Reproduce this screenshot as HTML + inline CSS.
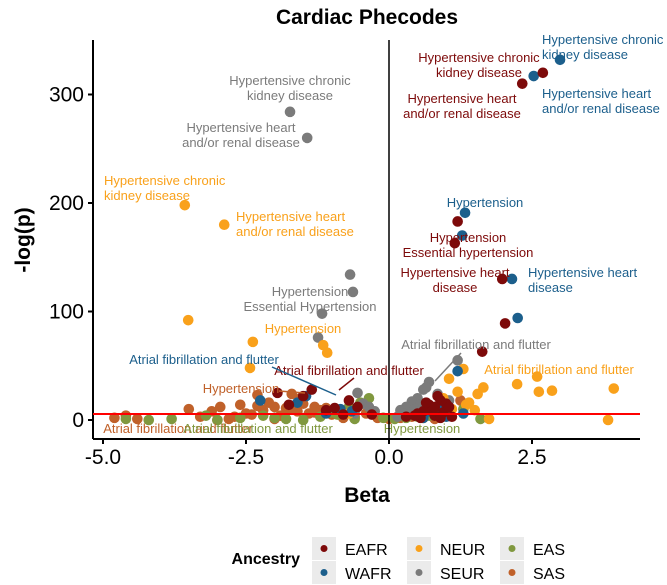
<!DOCTYPE html>
<html><head><meta charset="utf-8"><style>
body{margin:0;background:#fff;}
svg{display:block;font-family:"Liberation Sans",Arial,sans-serif;}
</style></head><body>
<svg id="chart" width="667" height="585" viewBox="0 0 667 585" xmlns="http://www.w3.org/2000/svg">
<text x="367" y="24" font-size="21" font-weight="bold" text-anchor="middle">Cardiac Phecodes</text>
<g id="points"></g>
<g id="annot"></g>
<g id="axes"></g>
<text x="367" y="502" font-size="21" font-weight="bold" text-anchor="middle">Beta</text>
<text transform="translate(30,240) rotate(-90)" font-size="21" font-weight="bold" text-anchor="middle">-log(p)</text>
<g id="legend">
<text x="300" y="564" font-size="16" font-weight="bold" text-anchor="end">Ancestry</text>
</g>
</svg>
<script>
const xTicks=[-5.0,-2.5,0.0,2.5];
const xTickLabels=["-5.0","-2.5","0.0","2.5"];
const yTicks=[0,100,200,300];
const yTickLabels=["0","100","200","300"];
const sigLine=5.5;
const seriesNames=["EAFR","WAFR","NEUR","SEUR","EAS","SAS"];
const seriesColors=["#7d0a0a","#1c5f8c","#f9a11b","#7b7b7b","#80983f","#c0612a"];
const eafrBeta=[2.69,2.33,1.2,1.15,1.98,2.03,1.63,-0.55,-0.7,-1.35,-1.5,-0.95,-1.1,-0.8,0.85,0.9,1.0,0.7,0.75,0.6,0.95,1.05,0.8,0.65,0.5,1.1,0.9,-0.3,-1.95,-1.75,0.55,0.3,0.45,0.8];
const eafrP=[320,310,183,163,130,89,63,12,18,28,22,11,9,5,22,18,15,14,10,8,7,12,4,16,6,3,2,5,25,14,2,3,4,12];
const wafrBeta=[2.99,2.53,1.33,1.28,2.15,2.25,-2.25,-1.45,-1.6,-0.65,1.2,0.85,0.95,0.7,1.3,0.5,-1.1,-0.85,0.6,1.0];
const wafrP=[332,317,191,170,130,94,18,22,16,8,45,12,10,8,6,4,6,10,2,3];
const neurBeta=[-3.57,-2.88,-3.51,-2.38,-2.43,-1.15,-1.08,2.24,2.59,2.62,2.85,3.93,3.83,1.3,1.05,1.2,1.55,1.65,1.35,1.4,1.75,0.95,1.5,1.1,-0.7];
const neurP=[198,180,92,72,48,69,62,33,40,26,27,29,0,47,38,26,24,30,14,16,1,20,9,10,6];
const seurBeta=[-1.73,-1.43,-0.68,-0.63,-1.17,-1.24,-0.55,-0.45,-0.35,-0.25,-0.6,1.2,0.7,0.6,0.5,0.4,0.3,0.2,0.55,0.85,0.65,0.45,1.05,0.35,0.15,0.25];
const seurP=[284,260,134,118,98,76,25,15,12,8,6,55,35,28,20,17,12,9,14,24,30,10,18,5,3,6];
const easBeta=[-4.6,-3.8,-3.0,-2.6,-2.2,-1.8,-1.5,-1.2,-0.9,-0.7,-0.5,-0.3,-0.1,0.1,0.3,0.5,0.7,0.9,1.3,1.6,-0.6,-0.35,-1.0,-2.0,-3.2,-4.2,0.2];
const easP=[1,1,0,2,4,1,0,3,5,12,16,8,2,1,2,3,4,3,10,1,1,20,7,2,4,0,6];
const sasBeta=[-4.8,-4.6,-4.4,-3.5,-3.3,-3.1,-2.95,-2.8,-2.6,-2.5,-2.4,-2.3,-2.2,-2.1,-2.0,-1.9,-1.8,-1.7,-1.6,-1.5,-1.4,-1.3,-1.2,-1.1,-1.0,-0.9,-0.8,-0.6,-0.4,-0.2,0.0,0.2,0.4,0.6,0.8,1.0,1.25,-2.3,-1.7,-1.55,-1.3,-2.7,-3.0,-2.0];
const sasP=[2,4,1,10,3,8,12,1,14,6,5,13,9,16,12,4,11,10,8,15,6,12,9,11,5,8,2,3,6,2,1,2,3,2,1,4,18,23,24,20,7,3,0,1];
const seriesBeta=[eafrBeta,wafrBeta,neurBeta,seurBeta,easBeta,sasBeta];
const seriesP=[eafrP,wafrP,neurP,seurP,easP,sasP];

const X0=93,X1=640,Y0=40,Y1=439;
const sx=b=>389+b*57.2;
const sy=v=>420-v*1.085;
const NS="http://www.w3.org/2000/svg";
function mk(tag,attrs,parent){const e=document.createElementNS(NS,tag);for(const k in attrs)e.setAttribute(k,attrs[k]);parent.appendChild(e);return e;}
const pts=document.getElementById('points');
const drawOrder=[5,4,3,2,1,0];
for(const s of drawOrder){
  seriesBeta[s].forEach((b,i)=>{
    const c=mk('circle',{cx:sx(b),cy:sy(seriesP[s][i]),r:5.3,fill:seriesColors[s]},pts);
    
    
  });
}
const ax=document.getElementById('axes');
let l=mk('line',{x1:X0,y1:Y0,x2:X0,y2:Y1,stroke:'#000','stroke-width':2},ax);

l=mk('line',{x1:X0,y1:Y1,x2:X1,y2:Y1,stroke:'#000','stroke-width':2},ax);

l=mk('line',{x1:sx(0),y1:Y0,x2:sx(0),y2:Y1,stroke:'#000','stroke-width':1.5},ax);

l=mk('line',{x1:X0,y1:sy(sigLine),x2:X1,y2:sy(sigLine),stroke:'#ff0000','stroke-width':2},ax);

xTicks.forEach((t,i)=>{
  const tk=mk('line',{x1:sx(t),y1:Y1,x2:sx(t),y2:Y1+5,stroke:'#000','stroke-width':2},ax);
  
  const tx=mk('text',{x:sx(t),y:Y1+25,'font-size':21,'text-anchor':'middle'},ax);
  tx.textContent=xTickLabels[i];
  
});
yTicks.forEach((t,i)=>{
  const tk=mk('line',{x1:X0-5,y1:sy(t),x2:X0,y2:sy(t),stroke:'#000','stroke-width':2},ax);
  
  const tx=mk('text',{x:X0-9,y:sy(t)+7,'font-size':21,'text-anchor':'end'},ax);
  tx.textContent=yTickLabels[i];
  
});
const an=document.getElementById('annot');
const annots=[
 [["Hypertensive chronic","kidney disease"],1,542,44,"start"],
 [["Hypertensive heart","and/or renal disease"],1,542,98,"start"],
 [["Hypertensive chronic","kidney disease"],0,479,62,"middle"],
 [["Hypertensive heart","and/or renal disease"],0,462,103,"middle"],
 [["Hypertensive chronic","kidney disease"],3,290,85,"middle"],
 [["Hypertensive heart","and/or renal disease"],3,241,132,"middle"],
 [["Hypertensive chronic","kidney disease"],2,104,185,"start"],
 [["Hypertensive heart","and/or renal disease"],2,236,221,"start"],
 [["Hypertension"],1,485,207,"middle"],
 [["Hypertension","Essential hypertension"],0,468,242,"middle"],
 [["Hypertensive heart","disease"],0,455,277,"middle"],
 [["Hypertensive heart","disease"],1,528,277,"start"],
 [["Hypertension","Essential Hypertension"],3,310,296,"middle"],
 [["Hypertension"],2,303,333,"middle"],
 [["Atrial fibrillation and flutter"],3,476,349,"middle"],
 [["Atrial fibrillation and flutter"],1,204,364,"middle"],
 [["Atrial fibrillation and flutter"],0,349,375,"middle"],
 [["Atrial fibrillation and flutter"],2,559,374,"middle"],
 [["Hypertension"],5,241,393,"middle"],
 [["Atrial fibrillation and flutter"],5,178,433,"middle"],
 [["Atrial fibrillation and flutter"],4,258,433,"middle"],
 [["Hypertension"],4,422,433,"middle"]
];
annots.forEach(a=>{
  a[0].forEach((ln,j)=>{
    const t=mk('text',{x:a[2],y:a[3]+j*15,'font-size':13,fill:seriesColors[a[1]],'text-anchor':a[4]},an);
    t.textContent=ln;
    
  });
});
const conns=[[272,367,336,395,1],[354,378,339,390,0],[461,353,435,381,3],[279,391,305,393,5]];
conns.forEach(c=>{
  const s=mk('line',{x1:c[0],y1:c[1],x2:c[2],y2:c[3],stroke:seriesColors[c[4]],'stroke-width':1.5},an);
  
});
const lg=document.getElementById('legend');
const lx=[312,407,500],ly=[537,561];
const order=[[0,2,4],[1,3,5]];
order.forEach((row,r)=>row.forEach((s,c)=>{
  const k=mk('rect',{x:lx[c],y:ly[r],width:24,height:23,fill:'#ebebeb'},lg);
  
  const d=mk('circle',{cx:lx[c]+12,cy:ly[r]+11.5,r:3.5,fill:seriesColors[s]},lg);
  
  const t=mk('text',{x:lx[c]+33,y:ly[r]+18,'font-size':16},lg);
  t.textContent=seriesNames[s];
  
  
}));
</script>
</body></html>
